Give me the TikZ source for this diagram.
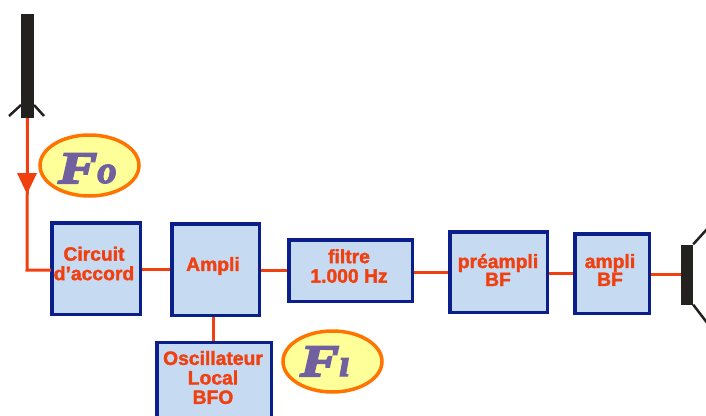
\documentclass[tikz,border=0pt]{standalone}
\usepackage{fontspec}
\newfontfamily\labelfont[FakeBold=1.6]{Liberation Sans Bold}
\newfontfamily\capfont[FakeStretch=1.3,FakeBold=4.5]{Liberation Serif Bold Italic}
\newfontfamily\smallfont[FakeBold=3]{Liberation Serif Bold Italic}
\usetikzlibrary{shapes.geometric}
\definecolor{navy}{HTML}{0A1E8C}
\definecolor{pale}{HTML}{C6DAF2}
\definecolor{wire}{HTML}{F04010}
\definecolor{halo}{HTML}{FF7400}
\definecolor{butter}{HTML}{FFFF99}
\definecolor{violet}{HTML}{7060A0}
\definecolor{ink}{HTML}{24221E}
\tikzset{
  x=1pt,y=-1pt,
  block/.style={draw=navy,line width=3.5pt,fill=pale,inner sep=0pt},
  lbl/.style={text=wire,align=center,inner sep=0pt,font=\labelfont\fontsize{19.3}{19.5}\selectfont},
  wirepath/.style={draw=wire,line width=3pt},
  tag/.style={ellipse,draw=halo,line width=3.5pt,fill=butter,minimum width=99pt,minimum height=61pt,inner sep=0pt},
  tagtext/.style={text=violet,inner sep=0pt,anchor=base west},
  blackbar/.style={fill=ink,draw=none,inner sep=0pt},
  strokeblack/.style={draw=ink,line width=2.5pt}
}
\begin{document}
\begin{tikzpicture}
\useasboundingbox (0,0) rectangle (706,415);
\clip (0,0) rectangle (706,415);
% nodes
\node[blackbar,minimum width=13pt,minimum height=104pt] (ant) at (27.5,66) {};
\node[block,minimum width=88.5pt,minimum height=91.5pt] (circ) at (96,268.5) {};
\node[block,minimum width=87.5pt,minimum height=91.5pt] (amp) at (215.5,269.5) {};
\node[block,minimum width=123.5pt,minimum height=61.5pt] (fil) at (350.5,270.5) {};
\node[block,minimum width=97.5pt,minimum height=80.5pt] (pre) at (498.5,272) {};
\node[block,minimum width=74.5pt,minimum height=79.5pt] (abf) at (612,273.5) {};
\node[block,minimum width=114.5pt,minimum height=100pt] (osc) at (214,392.5) {};
\node[blackbar,minimum width=12pt,minimum height=60pt] (spk) at (687,274.5) {};
\node[lbl] (circl) at (94,263.5) {Circuit\\d’accord};
\node[lbl] (ampl) at (213,266) {Ampli};
\node[lbl] (fill) at (349,266) {filtre\\1.000 Hz};
\node[lbl,font=\labelfont\fontsize{19.3}{18}\selectfont] (prel) at (498,270) {préampli\\BF};
\node[lbl,font=\labelfont\fontsize{19.3}{18}\selectfont] (abfl) at (610,270) {ampli\\BF};
\node[lbl] (oscl) at (213,377.5) {Oscillateur\\Local\\BFO};
\node[tag] (fo) at (89.5,165.5) {};
\node[tag] (fi) at (332.5,361.5) {};
\node[tagtext] (fot) at (58,183) {\capfont\fontsize{45}{45}\selectfont F\smallfont\fontsize{39}{39}\selectfont o};
\node[tagtext] (fit) at (300,376) {\capfont\fontsize{45}{45}\selectfont F\smallfont\fontsize{39}{39}\selectfont ı};
% whiskers and speaker cone
\coordinate (wl) at (9,116); \coordinate (wr) at (44,116);
\coordinate (wlt) at (21,105); \coordinate (wrt) at (34,105);
\draw[strokeblack] (wl) -- (wlt);
\draw[strokeblack] (wr) -- (wrt);
\coordinate (cu) at (708,228); \coordinate (cd) at (708,324);
\draw[strokeblack] (spk.north east) -- (cu);
\draw[strokeblack] (spk.south east) -- (cd);
% connectors
\coordinate (corner) at (27,270);
\coordinate (cin) at (51,270);
\coordinate (tipa) at (17,173); \coordinate (tipb) at (37,173); \coordinate (tipc) at (27,194);
\draw[wirepath] (ant.south) -- (corner) -- (cin);
\fill[wire] (tipa) -- (tipb) -- (tipc) -- cycle;
\draw[wirepath] (circ.east |- amp.west) -- (amp.west);
\draw[wirepath] (amp.east |- fil.west) -- (fil.west);
\draw[wirepath] (fil.east |- pre.west) -- (pre.west);
\draw[wirepath] (pre.east |- abf.west) -- (abf.west);
\draw[wirepath] (abf.east |- spk.west) -- (spk.west);
\draw[wirepath] (amp.south -| oscl) -- (osc.north -| oscl);
\end{tikzpicture}
\end{document}
